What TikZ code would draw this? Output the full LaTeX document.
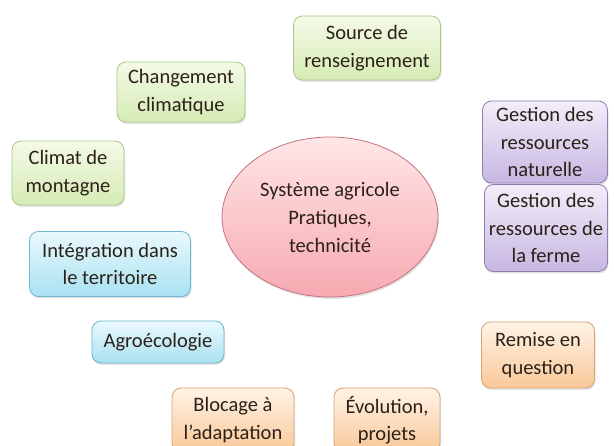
\documentclass[tikz,border=0pt]{standalone}
\usepackage{fontspec}
\setmainfont{Carlito}
\usetikzlibrary{shapes.geometric, shadows, positioning}
\definecolor{textcolor}{HTML}{2B2118}
\definecolor{greentop}{HTML}{F4FAE8}
\definecolor{greenbot}{HTML}{D6EBB4}
\definecolor{greenborder}{HTML}{A9C98A}
\definecolor{purpletop}{HTML}{F3EEF9}
\definecolor{purplebot}{HTML}{C7B7E2}
\definecolor{purpleborder}{HTML}{8E7DB3}
\definecolor{orangetop}{HTML}{FFF3E6}
\definecolor{orangebot}{HTML}{F9C899}
\definecolor{orangeborder}{HTML}{D9A374}
\definecolor{bluetop}{HTML}{EAF9FD}
\definecolor{bluebot}{HTML}{A9E1F1}
\definecolor{blueborder}{HTML}{6FB6CE}
\definecolor{pinktop}{HTML}{FFE6E6}
\definecolor{pinkbot}{HTML}{F7A9B1}
\definecolor{pinkborder}{HTML}{C27482}
\tikzset{
  topicbox/.style={
    rounded corners=9pt,
    line width=0.8pt,
    align=center,
    text=textcolor,
    font=\fontsize{20.5}{27.5}\selectfont,
    inner sep=1pt,
    drop shadow={opacity=0.22, shadow xshift=1pt, shadow yshift=-2pt}
  },
  greenbox/.style={topicbox, draw=greenborder, top color=greentop, bottom color=greenbot},
  purplebox/.style={topicbox, draw=purpleborder, top color=purpletop, bottom color=purplebot},
  orangebox/.style={topicbox, draw=orangeborder, top color=orangetop, bottom color=orangebot},
  bluebox/.style={topicbox, draw=blueborder, top color=bluetop, bottom color=bluebot},
  corebox/.style={
    ellipse,
    draw=pinkborder,
    line width=0.8pt,
    top color=pinktop,
    bottom color=pinkbot,
    align=center,
    text=textcolor,
    inner sep=0pt,
    font=\fontsize{20.5}{28}\selectfont,
    drop shadow={opacity=0.22, shadow xshift=1pt, shadow yshift=-2pt}
  }
}

\begin{document}
\begin{tikzpicture}[x=1pt, y=-1pt]

  \useasboundingbox (0,0) rectangle (614,446);
  \fill[white] (0,0) rectangle (614,446);

  % Centre
  \node (sys) [corebox, minimum width=216pt, minimum height=160pt] at (330,217) {Système agricole\\Pratiques,\\technicité};

  % Green topics
  \node (src) [greenbox, minimum width=147pt, minimum height=64pt] at (367,48) {Source de\\renseignement};
  \node (chg) [greenbox, minimum width=128pt, minimum height=60pt] at (181,92) {Changement\\climatique};
  \node (cli) [greenbox, minimum width=112pt, minimum height=64pt] at (68,173) {Climat de\\montagne};

  % Purple topics
  \node (gnat) [purplebox, minimum width=125pt, minimum height=82pt] at (545,142) {Gestion des\\ressources\\naturelle};
  \node (gfer) [purplebox, minimum width=123pt, minimum height=87pt] at (546,228) {Gestion des\\ressources de\\la ferme};

  % Blue topics
  \node (int) [bluebox, minimum width=161pt, minimum height=65pt] at (110,264) {Intégration dans\\le territoire};
  \node (agr) [bluebox, minimum width=132pt, minimum height=42pt] at (158,342) {Agroécologie};

  % Orange topics
  \node (rem) [orangebox, minimum width=113pt, minimum height=66pt] at (538,355) {Remise en\\question};
  \node (blo) [orangebox, minimum width=122pt, minimum height=64pt] at (233,420) {Blocage à\\l’adaptation};
  \node (evo) [orangebox, minimum width=106pt, minimum height=64pt] at (387,420) {Évolution,\\projets};

\end{tikzpicture}
\end{document}
